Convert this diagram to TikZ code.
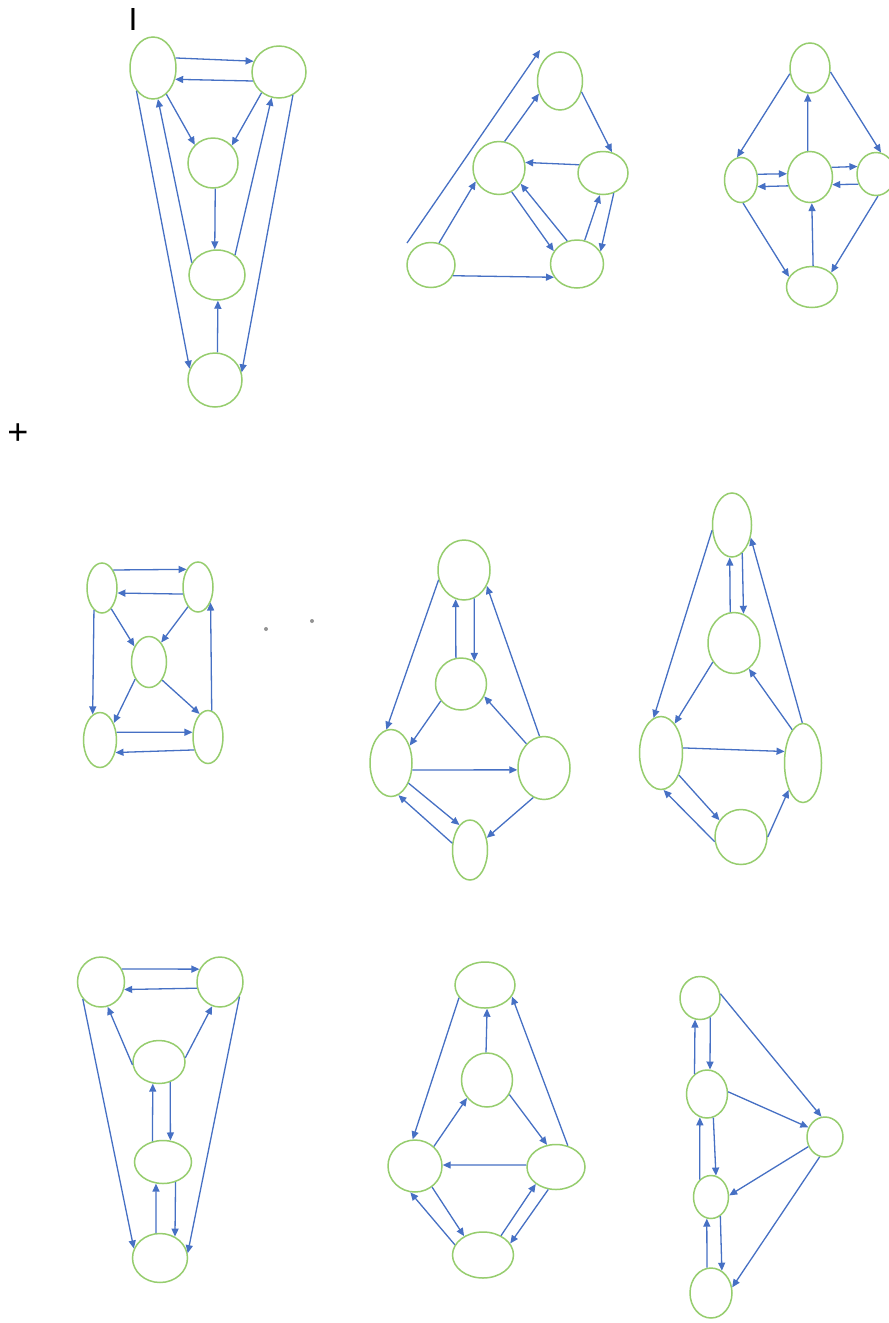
\documentclass[tikz,border=0pt]{standalone}
\usepackage{fontspec}
\setmainfont{Liberation Sans}
\usetikzlibrary{arrows.meta,shapes.geometric}
\definecolor{vgreen}{RGB}{150,205,110}
\definecolor{eblue}{RGB}{70,112,196}

\begin{document}
\begin{tikzpicture}[
  x=1pt, y=-1pt,
  vtx/.style={ellipse, draw=vgreen, line width=1.5pt, inner sep=0pt},
  sz/.style 2 args={minimum width=#1pt, minimum height=#2pt},
  arrow/.style={-{Triangle[length=8pt,width=7pt]}, draw=eblue, line width=1.3pt},
  dotmark/.style={circle, fill=gray!85, inner sep=0pt, minimum size=4pt},
  bigtext/.style={font=\fontsize{32}{38}\selectfont, inner sep=0pt}
]
\path[use as bounding box, fill=white] (0,0) rectangle (889,1323);

\node[bigtext] (cursor) at (133,19) {I};
\node[bigtext, font=\fontsize{36}{40}\selectfont] (plus) at (18,434) {+};
\node[dotmark] (dot1) at (266,629) {};
\node[dotmark] (dot2) at (312,621) {};

\node[vtx, sz={46}{62}] (g1a) at (153,68) {};
\node[vtx, sz={54}{52}] (g1b) at (279,72) {};
\node[vtx, sz={50}{50}] (g1c) at (213,163) {};
\node[vtx, sz={56}{50}] (g1d) at (217,275) {};
\node[vtx, sz={54}{54}] (g1e) at (215,380) {};

\draw[arrow] (g1a.24) -- (g1b.157);
\draw[arrow] (g1b.199) -- (g1a.333);
\draw[arrow] (g1a.297) -- (g1c.135);
\draw[arrow] (g1b.230) -- (g1c.43);
\draw[arrow] (g1c.-85) -- (g1d.95);
\draw[arrow] (g1e.85) -- (g1d.-88);
\draw[arrow] (g1d.154) -- (g1a.279);
\draw[arrow] (g1d.48) -- (g1b.254);
\draw[arrow] (g1a.234) -- (g1e.156);
\draw[arrow] (g1b.301) -- (g1e.16);

\node[vtx, sz={45}{58}] (g2a) at (560,81) {};
\node[vtx, sz={52}{53}] (g2b) at (499,168) {};
\node[vtx, sz={50}{43}] (g2c) at (603,173) {};
\node[vtx, sz={48}{45}] (g2d) at (431,265) {};
\node[vtx, sz={53}{48}] (g2e) at (577,264) {};
\coordinate (g2s) at (407,243);
\coordinate (g2t) at (540,50);

\draw[arrow] (g2s) -- (g2t);
\draw[arrow] (g2b.78) -- (g2a.211);
\draw[arrow] (g2a.333) -- (g2c.67);
\draw[arrow] (g2c.161) -- (g2b.12);
\draw[arrow] (g2b.298) -- (g2e.151);
\draw[arrow] (g2e.113) -- (g2b.324);
\draw[arrow] (g2e.72) -- (g2c.262);
\draw[arrow] (g2c.298) -- (g2e.28);
\draw[arrow] (g2d.70) -- (g2b.210);
\draw[arrow] (g2d.334) -- (g2e.210);

\node[vtx, sz={40}{50}] (g3a) at (810,68) {};
\node[vtx, sz={33}{45}] (g3b) at (741,180) {};
\node[vtx, sz={45}{51}] (g3c) at (810,177) {};
\node[vtx, sz={38}{43}] (g3d) at (876,174) {};
\node[vtx, sz={51}{41}] (g3e) at (812,287) {};

\draw[arrow] (g3a.196) -- (g3b.100);
\draw[arrow] (g3a.349) -- (g3d.77);
\draw[arrow] (g3c.95) -- (g3a.265);
\draw[arrow] (g3b.19) -- (g3c.172);
\draw[arrow] (g3c.202) -- (g3b.338);
\draw[arrow] (g3c.24) -- (g3d.158);
\draw[arrow] (g3d.210) -- (g3c.341);
\draw[arrow] (g3e.87) -- (g3c.274);
\draw[arrow] (g3b.275) -- (g3e.156);
\draw[arrow] (g3d.275) -- (g3e.37);

\node[vtx, sz={30}{50}] (g4a) at (102,588) {};
\node[vtx, sz={30}{50}] (g4b) at (198,587) {};
\node[vtx, sz={35}{51}] (g4c) at (149,662) {};
\node[vtx, sz={33}{55}] (g4d) at (100,740) {};
\node[vtx, sz={30}{53}] (g4e) at (208,737) {};

\draw[arrow] (g4a.58) -- (g4b.123);
\draw[arrow] (g4b.205) -- (g4a.342);
\draw[arrow] (g4a.294) -- (g4c.133);
\draw[arrow] (g4b.243) -- (g4c.58);
\draw[arrow] (g4a.250) -- (g4d.106);
\draw[arrow] (g4e.82) -- (g4b.309);
\draw[arrow] (g4c.231) -- (g4d.51);
\draw[arrow] (g4c.306) -- (g4e.110);
\draw[arrow] (g4d.25) -- (g4e.163);
\draw[arrow] (g4e.223) -- (g4d.321);

\node[vtx, sz={52}{60}] (g5a) at (464,570) {};
\node[vtx, sz={51}{52}] (g5b) at (461,684) {};
\node[vtx, sz={42}{67}] (g5c) at (391,763) {};
\node[vtx, sz={52}{63}] (g5d) at (544,768) {};
\node[vtx, sz={35}{60}] (g5e) at (470,850) {};

\draw[arrow] (g5a.201) -- (g5c.98);
\draw[arrow] (g5b.101) -- (g5a.254);
\draw[arrow] (g5a.290) -- (g5b.60);
\draw[arrow] (g5d.98) -- (g5a.325);
\draw[arrow] (g5b.220) -- (g5c.43);
\draw[arrow] (g5d.126) -- (g5b.332);
\draw[arrow] (g5c.342) -- (g5d.184);
\draw[arrow] (g5c.311) -- (g5e.113);
\draw[arrow] (g5e.159) -- (g5c.283);
\draw[arrow] (g5d.250) -- (g5e.36);

\node[vtx, sz={39}{64}] (g6a) at (732,525) {};
\node[vtx, sz={52}{61}] (g6b) at (734,643) {};
\node[vtx, sz={43}{73}] (g6c) at (661,753) {};
\node[vtx, sz={37}{79}] (g6d) at (803,763) {};
\node[vtx, sz={52}{55}] (g6e) at (741,837) {};

\draw[arrow] (g6a.195) -- (g6c.102);
\draw[arrow] (g6b.97) -- (g6a.266);
\draw[arrow] (g6a.290) -- (g6b.72);
\draw[arrow] (g6d.91) -- (g6a.326);
\draw[arrow] (g6b.222) -- (g6c.65);
\draw[arrow] (g6d.108) -- (g6b.300);
\draw[arrow] (g6c.13) -- (g6d.148);
\draw[arrow] (g6c.309) -- (g6e.142);
\draw[arrow] (g6e.190) -- (g6c.274);
\draw[arrow] (g6e.0) -- (g6d.242);

\node[vtx, sz={47}{50}] (g7a) at (101,982) {};
\node[vtx, sz={46}{50}] (g7b) at (220,982) {};
\node[vtx, sz={52}{43}] (g7c) at (159,1062) {};
\node[vtx, sz={57}{43}] (g7d) at (163,1162) {};
\node[vtx, sz={55}{49}] (g7e) at (160,1258) {};

\draw[arrow] (g7a.32) -- (g7b.148);
\draw[arrow] (g7b.195) -- (g7a.342);
\draw[arrow] (g7c.186) -- (g7a.285);
\draw[arrow] (g7c.9) -- (g7b.252);
\draw[arrow] (g7d.117) -- (g7c.254);
\draw[arrow] (g7c.299) -- (g7d.71);
\draw[arrow] (g7e.99) -- (g7d.252);
\draw[arrow] (g7d.302) -- (g7e.55);
\draw[arrow] (g7a.223) -- (g7e.160);
\draw[arrow] (g7b.323) -- (g7e.10);

\node[vtx, sz={60}{46}] (g8a) at (485,985) {};
\node[vtx, sz={51}{54}] (g8b) at (487,1080) {};
\node[vtx, sz={54}{52}] (g8c) at (415,1166) {};
\node[vtx, sz={58}{45}] (g8d) at (556,1167) {};
\node[vtx, sz={61}{46}] (g8e) at (483,1255) {};

\draw[arrow] (g8a.206) -- (g8c.95);
\draw[arrow] (g8b.92) -- (g8a.275);
\draw[arrow] (g8d.61) -- (g8a.337);
\draw[arrow] (g8c.46) -- (g8b.222);
\draw[arrow] (g8b.327) -- (g8d.112);
\draw[arrow] (g8d.176) -- (g8c.2);
\draw[arrow] (g8c.309) -- (g8e.135);
\draw[arrow] (g8e.160) -- (g8c.260);
\draw[arrow] (g8e.47) -- (g8d.220);
\draw[arrow] (g8d.251) -- (g8e.23);

\node[vtx, sz={40}{43}] (g9a) at (700,998) {};
\node[vtx, sz={41}{48}] (g9b) at (707,1094) {};
\node[vtx, sz={36}{40}] (g9c) at (825,1137) {};
\node[vtx, sz={35}{43}] (g9d) at (711,1197) {};
\node[vtx, sz={42}{50}] (g9e) at (711,1293) {};

\draw[arrow] (g9b.122) -- (g9a.257);
\draw[arrow] (g9a.298) -- (g9b.83);
\draw[arrow] (g9a.12) -- (g9c.100);
\draw[arrow] (g9b.6) -- (g9c.150);
\draw[arrow] (g9d.123) -- (g9b.253);
\draw[arrow] (g9b.285) -- (g9d.77);
\draw[arrow] (g9c.210) -- (g9d.5);
\draw[arrow] (g9e.99) -- (g9d.259);
\draw[arrow] (g9d.296) -- (g9e.64);
\draw[arrow] (g9c.255) -- (g9e.15);

\end{tikzpicture}
\end{document}
